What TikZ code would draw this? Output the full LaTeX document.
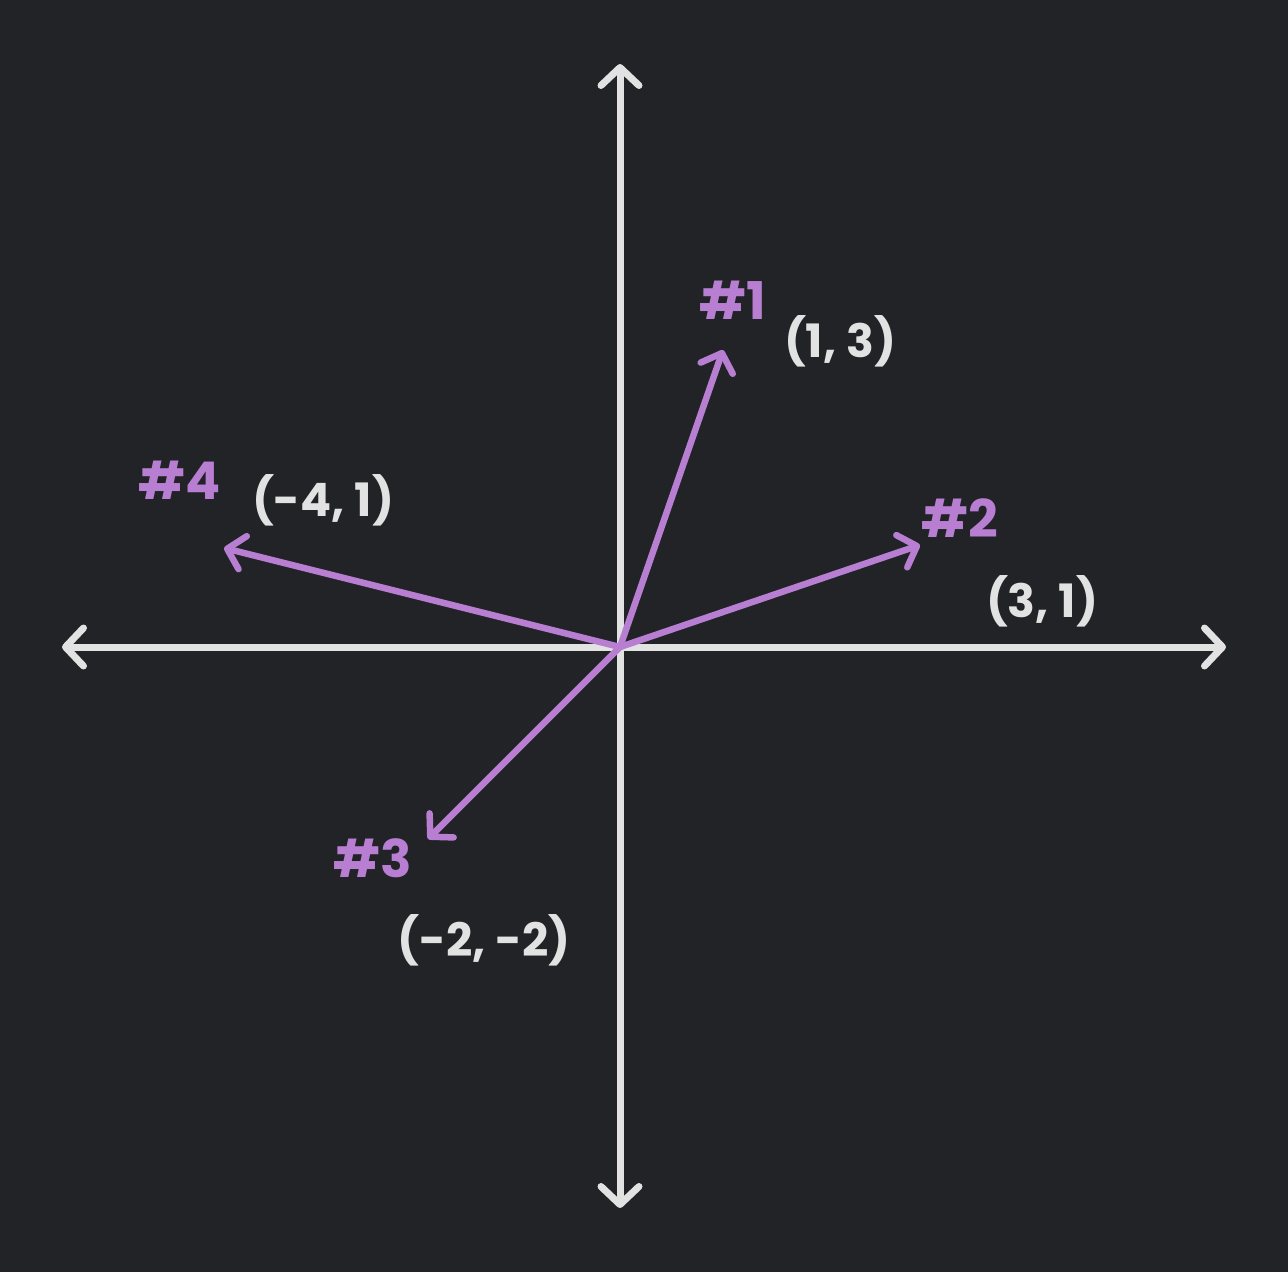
\documentclass[tikz,border=0pt]{standalone}
\usepackage{fontspec}
\setmainfont{Poppins}
\usetikzlibrary{arrows.meta}
\definecolor{bg}{HTML}{212327}
\definecolor{axis}{HTML}{E2E2E2}
\definecolor{vec}{HTML}{B77ED1}
\tikzset{
  axisline/.style={draw=axis, line width=7pt, line cap=round, arrows={Straight Barb[length=18pt,width=38pt,line cap=round,line join=round]-Straight Barb[length=18pt,width=38pt,line cap=round,line join=round]}},
  vecline/.style={draw=vec, line width=6.5pt, line cap=round, -{Straight Barb[length=16pt,width=34pt,line cap=round,line join=round]}},
  coordlbl/.style={text=axis, font=\fontsize{46}{52}\selectfont\bfseries, inner sep=0pt},
  numlbl/.style={text=vec, font=\fontsize{52}{58}\selectfont\bfseries, inner sep=0pt},
}
\begin{document}
\begin{tikzpicture}[x=1pt,y=-1pt]
\fill[bg] (0,0) rectangle (1288,1272);
\useasboundingbox (0,0) rectangle (1288,1272);
\coordinate (O) at (620,647);
\coordinate (xl) at (62,647);
\coordinate (xr) at (1226,647);
\coordinate (yt) at (620,64);
\coordinate (yb) at (620,1208);
\draw[axisline] (xl) -- (xr);
\draw[axisline] (yb) -- (yt);
\coordinate (v1) at (723,350);
\coordinate (v2) at (920,545);
\coordinate (v3) at (428,839);
\coordinate (v4) at (224,548);
\draw[vecline] (O) -- (v1);
\draw[vecline] (O) -- (v2);
\draw[vecline] (O) -- (v3);
\draw[vecline] (O) -- (v4);
\node[numlbl] (n1) at (733,300) {\#1};
\node[coordlbl] (c1) at (840,341) {(1, 3)};
\node[numlbl] (n2) at (960,518) {\#2};
\node[coordlbl] (c2) at (1042,601) {(3, 1)};
\node[numlbl] (n3) at (373,858) {\#3};
\node[coordlbl] (c3) at (484,940) {(-2, -2)};
\node[numlbl] (n4) at (180,480) {\#4};
\node[coordlbl] (c4) at (323,500) {(-4, 1)};
\end{tikzpicture}
\end{document}
